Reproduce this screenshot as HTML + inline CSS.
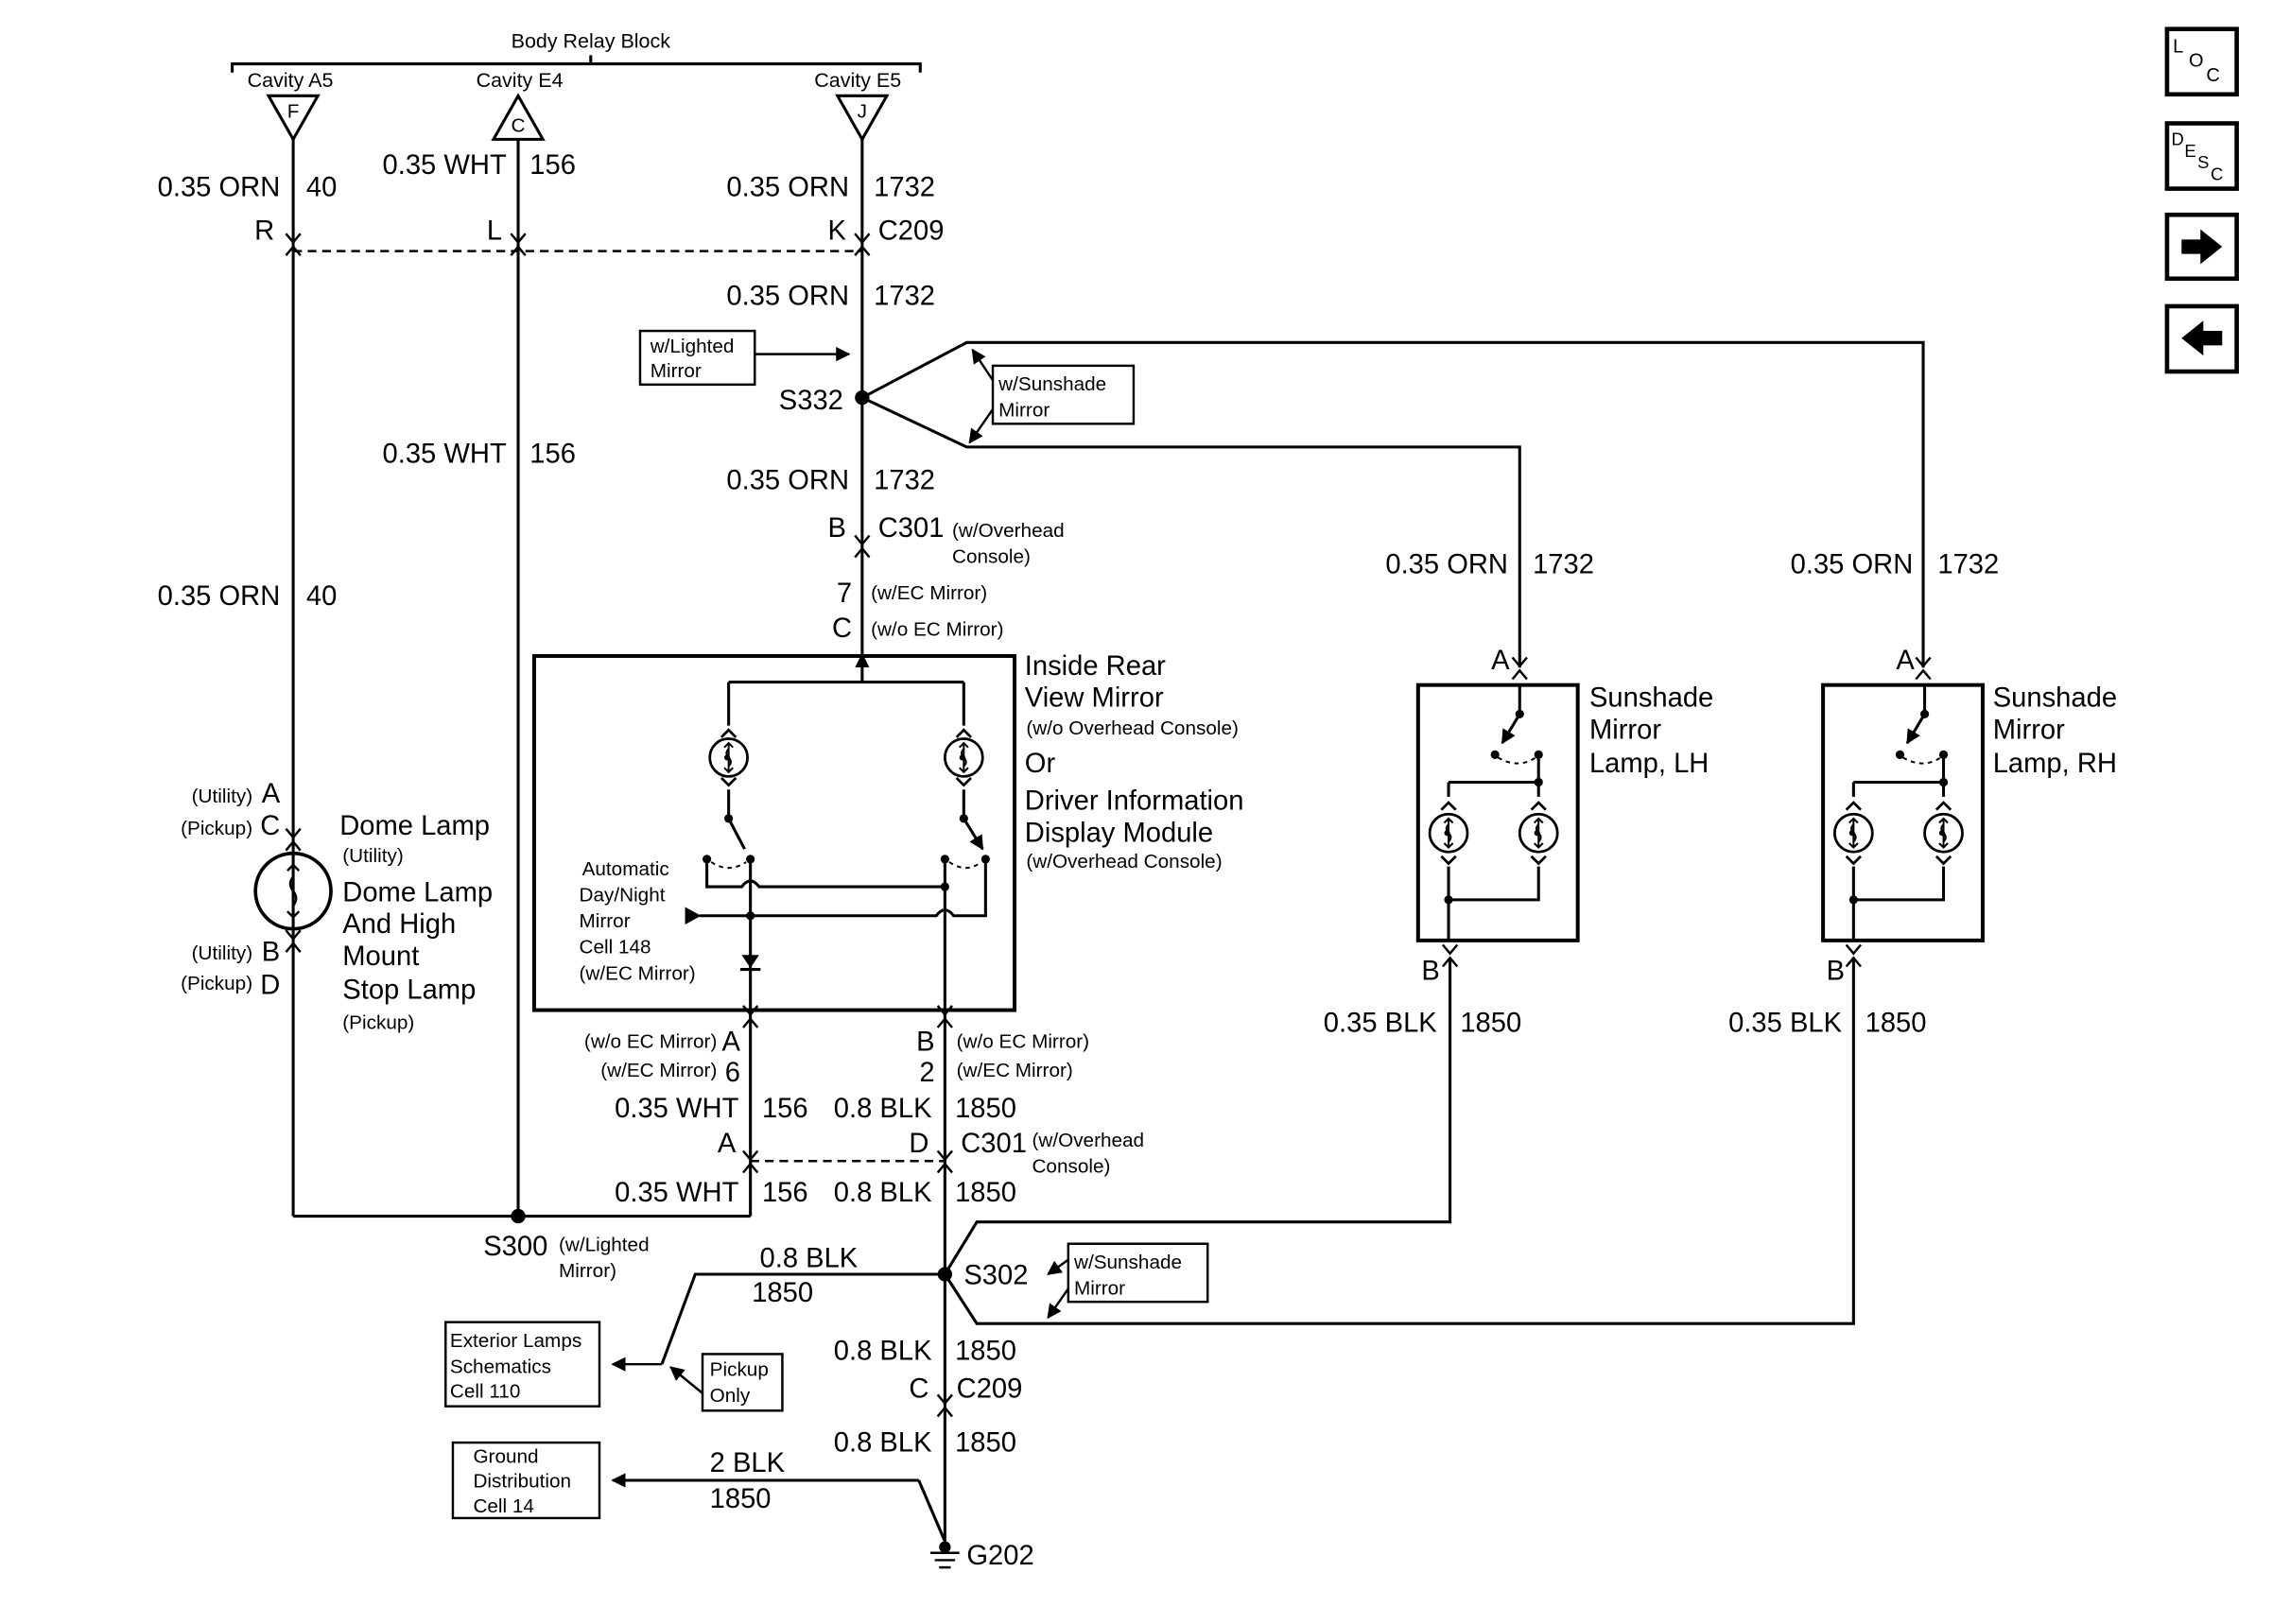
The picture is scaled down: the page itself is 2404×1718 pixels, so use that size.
<!DOCTYPE html>
<html><head><meta charset="utf-8"><style>
html,body{margin:0;padding:0;background:#fff}
svg{display:block}
text{font-family:"Liberation Sans",Arial,sans-serif;fill:#000}
.L{font-size:19px}.S{font-size:14px}.T{font-size:13.5px}
</style></head><body>
<svg width="2404" height="1718" viewBox="0 0 1566 1119" preserveAspectRatio="none" xmlns="http://www.w3.org/2000/svg">
<defs>
<g id="ch"><path d="M-5,6 L0,0 L5,6" fill="none" stroke="#000" stroke-width="1.6"/><path d="M-5,-3 L0,3 L5,-3" fill="none" stroke="#000" stroke-width="1.6" transform="translate(0,-6)"/></g>
<g id="up"><path d="M-5,5 L0,0 L5,5" fill="none" stroke="#000" stroke-width="1.8"/></g>
<g id="dn"><path d="M-5,-5 L0,0 L5,-5" fill="none" stroke="#000" stroke-width="1.8"/></g>
<g id="bulb"><circle r="13" fill="none" stroke="#000" stroke-width="1.8"/><path d="M0,-10 V10 M-3,-7 L0,-10 L3,-7 M-3,7 L0,10 L3,7 M0,-6 Q-3,-3 0,0 Q3,3 0,6" fill="none" stroke="#000" stroke-width="1.3"/><circle cx="-1" cy="0" r="2" fill="#000"/></g>
<marker id="ar" markerWidth="10" markerHeight="10" refX="9" refY="5" orient="auto" markerUnits="userSpaceOnUse"><path d="M0,0 L10,5 L0,10z" fill="#000"/></marker>
</defs>
<g stroke="#000" stroke-width="2" fill="none">
<path d="M160,50 L160,44 L634,44 L634,50 M407,44 L407,38"/>
<path d="M185,66 L219,66 L202,96z M340,96 L374,96 L357,66z M577,66 L611,66 L594,96z"/>
<path d="M202,96 V838 M357,96 V838 M594,96 V452"/>
<path d="M202,838 H517 M517,696 V838 M651,696 V1062"/>
<path d="M594,274 L666,236 H1325 V460 M594,274 L666,308 H1047 V460"/>
<path d="M651,878 L673,842 H999 V660 M651,878 L673,912 H1277 V660"/>
<path d="M651,878 H479 L456,940"/>
<path d="M633,1020 L651,1062"/>
<path d="M423,1020 H633"/>
<rect x="368" y="452" width="331" height="244" stroke-width="2.6"/>
<rect x="977" y="472" width="110" height="176" stroke-width="2.6"/>
<rect x="1256" y="472" width="110" height="176" stroke-width="2.6"/>
</g>
<g stroke="#000" stroke-width="1.6" fill="none">
<rect x="441" y="228" width="79" height="37"/>
<rect x="684" y="252" width="97" height="40"/>
<rect x="736" y="857" width="96" height="40"/>
<rect x="484" y="933" width="55" height="39"/>
<rect x="307" y="911" width="106" height="58"/>
<rect x="312" y="994" width="101" height="52"/>
<path d="M520,244 H585" marker-end="url(#ar)"/>
<path d="M684,262 L670,241" marker-end="url(#ar)"/>
<path d="M684,282 L668,305" marker-end="url(#ar)"/>
<path d="M736,868 L722,878" marker-end="url(#ar)"/>
<path d="M736,888 L722,908" marker-end="url(#ar)"/>
<path d="M484,960 L462,942" marker-end="url(#ar)"/>
<path d="M456,940 H422" marker-end="url(#ar)"/>
<path d="M440,1020 H422" marker-end="url(#ar)"/>
<path d="M594,470 V451" marker-end="url(#ar)"/>
<path d="M202,173 H594 M517,800 H651" stroke-dasharray="6,4"/>
</g>
<!-- mirror internals -->
<g stroke="#000" stroke-width="2" fill="none">
<path d="M594,452 V470 M502,470 H664 M502,470 V500 M664,470 V500"/>
<path d="M502,544 V564 M664,544 V564"/>
<path d="M502,564 L513,585 M664,564 L677,585" marker-end="url(#ar)"/>
<path d="M487,592 V611 H511 Q517,603 523,611 H651"/>
<path d="M482,631 H645 Q651,623 657,631 H679 V592"/>
<path d="M517,592 V696 M651,592 V696"/>
<path d="M510,668 H524"/>
<path d="M490,594 Q502,602 514,594 M654,594 Q666,602 676,594" stroke-dasharray="3,3" stroke-width="1.3"/>
</g>
<path d="M511,658 L523,658 L517,667z" fill="#000"/>
<path d="M472,625 L483,631 L472,637z" fill="#000"/>
<use href="#bulb" x="502" y="522"/><use href="#bulb" x="664" y="522"/>
<use href="#up" x="502" y="503"/><use href="#up" x="664" y="503"/>
<use href="#dn" x="502" y="541"/><use href="#dn" x="664" y="541"/>
<g fill="#000"><circle cx="502" cy="564" r="3"/><circle cx="664" cy="564" r="3"/><circle cx="487" cy="592" r="3"/><circle cx="517" cy="592" r="3"/><circle cx="651" cy="592" r="3"/><circle cx="679" cy="592" r="3"/><circle cx="651" cy="611" r="3"/><circle cx="517" cy="631" r="3"/></g>
<!-- sunshade internals -->
<g id="sun">
<g stroke="#000" stroke-width="2" fill="none">
<path d="M1047,472 V492"/>
<path d="M1047,492 L1035,512" marker-end="url(#ar)"/>
<path d="M1060,520 V539 M998,539 H1060 V549 M998,539 V549 M998,597 V647 M1060,597 V620 H998"/>
<path d="M1032,522 Q1046,530 1058,522" stroke-dasharray="3,3" stroke-width="1.3"/>
</g>
<use href="#bulb" x="998" y="574"/><use href="#bulb" x="1060" y="574"/>
<use href="#up" x="998" y="553"/><use href="#up" x="1060" y="553"/>
<use href="#dn" x="998" y="595"/><use href="#dn" x="1060" y="595"/>
<g fill="#000"><circle cx="1047" cy="492" r="3"/><circle cx="1030" cy="520" r="3"/><circle cx="1060" cy="520" r="3"/><circle cx="1060" cy="539" r="3"/><circle cx="998" cy="620" r="3"/></g>
</g>
<use href="#sun" x="279" y="0"/>
<g stroke="#000" stroke-width="1.6" fill="none">
<circle cx="202" cy="614" r="26" stroke-width="2.4"/>
<path d="M202,596 V632 M198,600 L202,596 L206,600 M198,628 L202,632 L206,628 M202,604 Q198,609 202,614 Q206,619 202,624"/>
<path d="M641,1070 H661 M644,1075 H658 M647,1080 H655"/>
</g>
<g fill="#000">
<circle cx="594" cy="274" r="5"/><circle cx="357" cy="838" r="5"/><circle cx="651" cy="878" r="5"/><circle cx="651" cy="1066" r="4"/>
</g>
<g>
<use href="#ch" x="202" y="170"/><use href="#ch" x="357" y="170"/><use href="#ch" x="594" y="170"/>
<use href="#ch" x="594" y="378"/><use href="#ch" x="517" y="802"/><use href="#ch" x="651" y="802"/>
<use href="#ch" x="651" y="970"/><use href="#ch" x="202" y="580"/><use href="#ch" x="202" y="650"/>
<use href="#ch" x="1047" y="462"/><use href="#ch" x="1325" y="462"/><use href="#ch" x="999" y="660"/><use href="#ch" x="1277" y="660"/>
<use href="#ch" x="517" y="702"/><use href="#ch" x="651" y="702"/>
</g>
<text class="S" x="407" y="33" text-anchor="middle">Body Relay Block</text>
<text class="S" x="200" y="60" text-anchor="middle">Cavity A5</text>
<text class="S" x="358" y="60" text-anchor="middle">Cavity E4</text>
<text class="S" x="591" y="60" text-anchor="middle">Cavity E5</text>
<text class="T" x="202" y="81" text-anchor="middle">F</text>
<text class="T" x="357" y="91" text-anchor="middle">C</text>
<text class="T" x="594" y="81" text-anchor="middle">J</text>
<g class="L">
<text x="193" y="135" text-anchor="end">0.35 ORN</text><text x="211" y="135">40</text>
<text x="349" y="120" text-anchor="end">0.35 WHT</text><text x="365" y="120">156</text>
<text x="585" y="135" text-anchor="end">0.35 ORN</text><text x="602" y="135">1732</text>
<text x="189" y="165" text-anchor="end">R</text><text x="346" y="165" text-anchor="end">L</text><text x="583" y="165" text-anchor="end">K</text><text x="605" y="165">C209</text>
<text x="585" y="210" text-anchor="end">0.35 ORN</text><text x="602" y="210">1732</text>
<text x="581" y="282" text-anchor="end">S332</text>
<text x="349" y="319" text-anchor="end">0.35 WHT</text><text x="365" y="319">156</text>
<text x="585" y="337" text-anchor="end">0.35 ORN</text><text x="602" y="337">1732</text>
<text x="583" y="370" text-anchor="end">B</text><text x="605" y="370">C301</text>
<text x="587" y="415" text-anchor="end">7</text><text x="587" y="439" text-anchor="end">C</text>
<text x="193" y="417" text-anchor="end">0.35 ORN</text><text x="211" y="417">40</text>
<text x="706" y="465">Inside Rear</text><text x="706" y="487">View Mirror</text>
<text x="706" y="532">Or</text><text x="706" y="558">Driver Information</text><text x="706" y="580">Display Module</text>
<text x="193" y="553" text-anchor="end">A</text><text x="193" y="575" text-anchor="end">C</text>
<text x="193" y="662" text-anchor="end">B</text><text x="193" y="685" text-anchor="end">D</text>
<text x="234" y="575">Dome Lamp</text><text x="236" y="621">Dome Lamp</text><text x="236" y="643">And High</text><text x="236" y="665">Mount</text><text x="236" y="688">Stop Lamp</text>
<text x="1039" y="395" text-anchor="end">0.35 ORN</text><text x="1056" y="395">1732</text>
<text x="1318" y="395" text-anchor="end">0.35 ORN</text><text x="1335" y="395">1732</text>
<text x="1040" y="461" text-anchor="end">A</text><text x="1319" y="461" text-anchor="end">A</text>
<text x="1095" y="487">Sunshade</text><text x="1095" y="509">Mirror</text><text x="1095" y="532">Lamp, LH</text>
<text x="1373" y="487">Sunshade</text><text x="1373" y="509">Mirror</text><text x="1373" y="532">Lamp, RH</text>
<text x="992" y="675" text-anchor="end">B</text><text x="1271" y="675" text-anchor="end">B</text>
<text x="990" y="711" text-anchor="end">0.35 BLK</text><text x="1006" y="711">1850</text>
<text x="1269" y="711" text-anchor="end">0.35 BLK</text><text x="1285" y="711">1850</text>
<text x="510" y="724" text-anchor="end">A</text><text x="510" y="745" text-anchor="end">6</text>
<text x="644" y="724" text-anchor="end">B</text><text x="644" y="745" text-anchor="end">2</text>
<text x="509" y="770" text-anchor="end">0.35 WHT</text><text x="525" y="770">156</text>
<text x="642" y="770" text-anchor="end">0.8 BLK</text><text x="658" y="770">1850</text>
<text x="507" y="794" text-anchor="end">A</text><text x="640" y="794" text-anchor="end">D</text><text x="662" y="794">C301</text>
<text x="509" y="828" text-anchor="end">0.35 WHT</text><text x="525" y="828">156</text>
<text x="642" y="828" text-anchor="end">0.8 BLK</text><text x="658" y="828">1850</text>
<text x="333" y="865">S300</text>
<text x="591" y="873" text-anchor="end">0.8 BLK</text><text x="518" y="897">1850</text>
<text x="664" y="885">S302</text>
<text x="642" y="937" text-anchor="end">0.8 BLK</text><text x="658" y="937">1850</text>
<text x="640" y="963" text-anchor="end">C</text><text x="659" y="963">C209</text>
<text x="642" y="1000" text-anchor="end">0.8 BLK</text><text x="658" y="1000">1850</text>
<text x="489" y="1014">2 BLK</text><text x="489" y="1039">1850</text>
<text x="666" y="1078">G202</text>
</g>
<g class="T">
<text x="656" y="370">(w/Overhead</text><text x="656" y="388">Console)</text>
<text x="600" y="413">(w/EC Mirror)</text><text x="600" y="438">(w/o EC Mirror)</text>
<text x="707" y="506">(w/o Overhead Console)</text><text x="707" y="598">(w/Overhead Console)</text>
<text x="448" y="243">w/Lighted</text><text x="448" y="260">Mirror</text>
<text x="688" y="269">w/Sunshade</text><text x="688" y="287">Mirror</text>
<text x="401" y="603">Automatic</text><text x="399" y="621">Day/Night</text><text x="399" y="639">Mirror</text><text x="399" y="657">Cell 148</text><text x="399" y="675">(w/EC Mirror)</text>
<text x="174" y="553" text-anchor="end">(Utility)</text><text x="174" y="575" text-anchor="end">(Pickup)</text>
<text x="174" y="661" text-anchor="end">(Utility)</text><text x="174" y="682" text-anchor="end">(Pickup)</text>
<text x="236" y="594">(Utility)</text><text x="236" y="709">(Pickup)</text>
<text x="494" y="722" text-anchor="end">(w/o EC Mirror)</text><text x="494" y="742" text-anchor="end">(w/EC Mirror)</text>
<text x="659" y="722">(w/o EC Mirror)</text><text x="659" y="742">(w/EC Mirror)</text>
<text x="711" y="790">(w/Overhead</text><text x="711" y="808">Console)</text>
<text x="385" y="862">(w/Lighted</text><text x="385" y="880">Mirror)</text>
<text x="740" y="874">w/Sunshade</text><text x="740" y="892">Mirror</text>
<text x="489" y="948">Pickup</text><text x="489" y="966">Only</text>
<text x="310" y="928">Exterior Lamps</text><text x="310" y="946">Schematics</text><text x="310" y="963">Cell 110</text>
<text x="326" y="1008">Ground</text><text x="326" y="1025">Distribution</text><text x="326" y="1042">Cell 14</text>
</g>
<g stroke="#000" stroke-width="3" fill="none">
<rect x="1493" y="20" width="48" height="45"/><rect x="1493" y="85" width="48" height="45"/>
<rect x="1493" y="148" width="48" height="44"/><rect x="1493" y="211" width="48" height="45"/>
</g>
<text x="1497" y="36" font-size="13">L</text><text x="1508" y="46" font-size="13">O</text><text x="1520" y="56" font-size="13">C</text>
<text x="1496" y="100" font-size="12">D</text><text x="1505" y="108" font-size="12">E</text><text x="1514" y="116" font-size="12">S</text><text x="1523" y="124" font-size="12">C</text>
<path d="M1503,165 H1516 V158 L1531,170 L1516,182 V175 H1503z" fill="#000"/>
<path d="M1531,228 H1518 V221 L1503,233 L1518,245 V238 H1531z" fill="#000"/>
</svg>
</body></html>
